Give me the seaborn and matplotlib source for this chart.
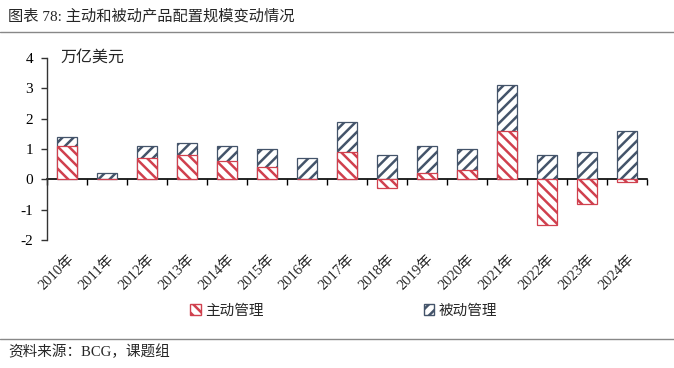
import pandas as pd
import seaborn as sns
import matplotlib.pyplot as plt
from matplotlib.patches import Patch
from matplotlib.lines import Line2D

# data (万亿美元)
years = ["2010年", "2011年", "2012年", "2013年", "2014年", "2015年", "2016年", "2017年",
         "2018年", "2019年", "2020年", "2021年", "2022年", "2023年", "2024年"]
active = [1.1, 0.0, 0.7, 0.8, 0.6, 0.4, 0.0, 0.9, -0.3, 0.2, 0.3, 1.6, -1.5, -0.8, -0.1]
passive = [0.3, 0.2, 0.4, 0.4, 0.5, 0.6, 0.7, 1.0, 0.8, 0.9, 0.7, 1.5, 0.8, 0.9, 1.6]

red = "#d0404e"
navy = "#44546a"

sns.set_style("ticks")
plt.rcParams["font.family"] = ["Liberation Serif", "Noto Sans CJK SC"]
plt.rcParams["hatch.linewidth"] = 1.8
plt.rcParams["axes.unicode_minus"] = False

df = pd.DataFrame({"year": years, "active": active, "passive": passive})
# passive stacks on top of positive active values, starts at 0 otherwise
df["top"] = df["active"].clip(lower=0) + df["passive"]

fig = plt.figure(figsize=(6.74, 3.68), dpi=100)
ax = fig.add_axes([0.07, 0.348, 0.89, 0.494])

sns.barplot(data=df, x="year", y="top", color="white", edgecolor=navy,
            hatch="///", linewidth=0.9, width=0.5, ax=ax)
sns.barplot(data=df, x="year", y="active", color="white", edgecolor=red,
            hatch="\\\\\\", linewidth=0.9, width=0.5, ax=ax)

ax.set_xlim(-0.5, len(years) - 0.5)
ax.set_ylim(-2, 4)
ax.set_yticks(range(-2, 5))
ax.set_xlabel("")
ax.set_ylabel("")
for s in ["top", "right", "bottom"]:
    ax.spines[s].set_visible(False)
ax.spines["left"].set_color("#333333")
ax.spines["left"].set_linewidth(1)
ax.tick_params(axis="y", length=4, width=1, colors="#333333", labelcolor="black",
               labelsize=11, pad=6)
ax.tick_params(axis="x", length=0, labelsize=10.5, pad=9)
plt.setp(ax.get_xticklabels(), rotation=45, ha="right", rotation_mode="anchor")

# zero line with category boundary ticks
zero = ax.secondary_xaxis(2 / 6)
zero.set_xticks([i - 0.5 for i in range(len(years) + 1)])
zero.set_xticklabels([])
zero.tick_params(length=4, width=1, direction="out", colors="black")
zero.spines["bottom"].set_linewidth(1.2)
zero.spines["bottom"].set_color("black")

ax.text(0.022, 1.0, "万亿美元", transform=ax.transAxes, fontsize=11.5, va="center")

handles = [Patch(facecolor="white", edgecolor=red, hatch="\\\\\\", label="主动管理"),
           Patch(facecolor="white", edgecolor=navy, hatch="///", label="被动管理")]
fig.legend(handles=handles, loc="center", bbox_to_anchor=(0.51, 0.155), ncol=2,
           frameon=False, fontsize=10.5, handlelength=0.7, handleheight=0.7,
           handletextpad=0.3, columnspacing=11)

fig.text(0.012, 0.955, "图表 78: 主动和被动产品配置规模变动情况", fontsize=11, va="center")
fig.add_artist(Line2D([0, 1], [0.913, 0.913], transform=fig.transFigure, color="#888888", lw=1))
fig.add_artist(Line2D([0, 1], [0.079, 0.079], transform=fig.transFigure, color="#888888", lw=1))
fig.text(0.012, 0.043, "资料来源：BCG，课题组", fontsize=10.5, va="center")

fig.savefig("out.png", dpi=100)
